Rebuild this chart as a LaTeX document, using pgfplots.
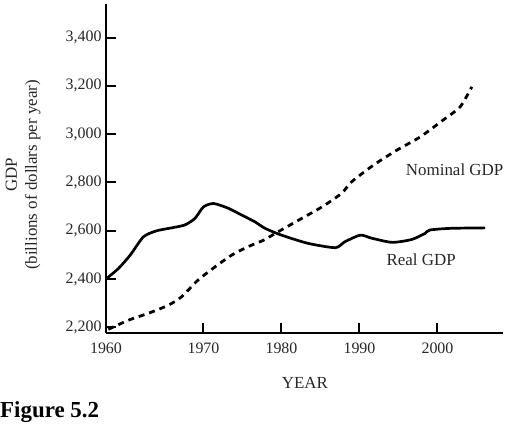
\documentclass[border=0pt]{standalone}
\usepackage{fontspec}
\setmainfont{Liberation Serif}
\usepackage{pgfplots}
\pgfplotsset{compat=1.18}
\begin{document}
\begin{tikzpicture}
\begin{axis}[
  at={(0,0)}, anchor=south west,
  scale only axis,
  width=397bp, height=328.7bp,
  xmin=1957.5, xmax=2008.4,
  ymin=2178, ymax=3539,
  axis lines=left,
  axis line style={line width=2.4bp, -},
  tick align=inside,
  major tick length=10bp,
  tick style={line width=2bp, black},
  xtick={1957.5,1970,1980,1990,2000},
  xticklabels={1960,1970,1980,1990,2000},
  ytick={2200,2400,2600,2800,3000,3200,3400},
  /pgf/number format/assume math mode=true,
  /pgf/number format/1000 sep={,},
  tick label style={font=\fontsize{16}{19}\selectfont, text=black!85},
  x tick label style={yshift=-7bp},
  y tick label style={xshift=-1bp},
  xlabel={YEAR},
  xlabel style={at={(axis description cs:0.501,-0.153)}, anchor=center, font=\fontsize{17}{20}\selectfont, text=black!85},
  ylabel={GDP\\(billions of dollars per year)},
  ylabel style={at={(axis description cs:-0.209,0.48)}, anchor=center, align=center, font=\fontsize{17}{20}\selectfont, text=black!85},
  clip=false,
]
% Real GDP
\addplot[black, line width=2.7bp, smooth, tension=0.4] coordinates {
(1957.6,2403) (1959.1,2444) (1960.6,2499) (1962.3,2575) (1964.0,2600)
(1965.9,2612) (1967.6,2624) (1968.9,2651) (1970.0,2699) (1971.3,2713)
(1973.2,2693) (1974.9,2665) (1976.6,2637) (1977.9,2610) (1980.0,2582)
(1983.4,2548) (1986.9,2530) (1988.1,2554) (1990.1,2582) (1991.6,2569)
(1994.2,2552) (1996.7,2564) (1998.4,2589) (1999.0,2603) (2001.6,2610)
(2006.1,2612)
};
% Nominal GDP
\addplot[black, line width=2.8bp, dash pattern=on 6bp off 5bp, smooth, tension=0.4] coordinates {
(1957.8,2192) (1960.4,2230) (1962.9,2258) (1965.5,2292) (1967.2,2327)
(1969.3,2396) (1971.5,2451) (1973.6,2499) (1975.7,2534) (1977.7,2561)
(1979.2,2589) (1982.2,2644) (1985.2,2699) (1987.7,2755) (1989.0,2803)
(1991.8,2872) (1994.8,2934) (1997.8,2989) (2000.7,3058) (2002.9,3113)
(2004.4,3196)
};
\node[font=\fontsize{17}{20}\selectfont, text=black!85] at (axis cs:2002.2,2851) {Nominal GDP};
\node[font=\fontsize{17}{20}\selectfont, text=black!85] at (axis cs:1997.9,2479) {Real GDP};
\node[anchor=west, font=\bfseries\fontsize{23}{26}\selectfont, inner sep=0pt] at (axis description cs:-0.267,-0.241) {Figure 5.2};
\end{axis}
\pgfresetboundingbox
\path[use as bounding box] (-106bp,-91.3bp) rectangle (401bp,332.7bp);
\end{tikzpicture}
\end{document}
